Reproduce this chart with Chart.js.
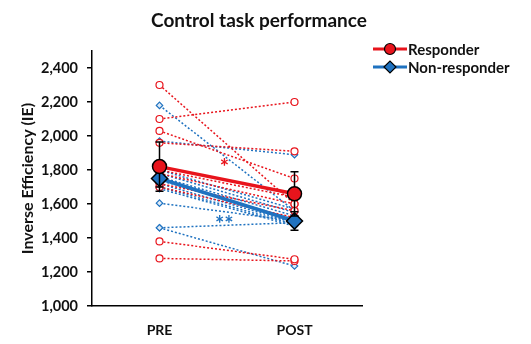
<!DOCTYPE html>
<html>
<head>
<meta charset="utf-8">
<script src="https://cdn.jsdelivr.net/npm/chart.js@4.4.1/dist/chart.umd.min.js"></script>
<style>
  body { margin: 0; background: #fff; }
  #wrap { width: 531px; height: 344px; }
</style>
</head>
<body>
<div id="wrap"><canvas id="chart"></canvas></div>
<script>
const timepoints = ['PRE', 'POST'];

// individual subjects, responders
const respPre  = [2300, 2100, 2030, 1960, 1800, 1780, 1720, 1700, 1380, 1280];
const respPost = [1600, 2200, 1750, 1910, 1640, 1600, 1560, 1520, 1275, 1265];
// individual subjects, non-responders
const nonPre  = [2180, 1970, 1800, 1780, 1760, 1740, 1720, 1700, 1690, 1605, 1460, 1460];
const nonPost = [1560, 1890, 1570, 1550, 1530, 1510, 1490, 1480, 1470, 1500, 1490, 1235];

// group means and error
const respMean = [1820, 1660];
const respErr  = [145, 130];
const nonMean  = [1750, 1500];
const nonErr   = [50, 55];

const RED = '#e8141c';
const BLUE = '#1f72c0';
const FONT = 'Lato, "Open Sans", sans-serif';

const datasets = [];

datasets.push({
    label: 'Responder',
    data: respMean,
    borderColor: RED,
    borderWidth: 3.5,
    pointStyle: 'circle',
    pointRadius: 7,
    pointBackgroundColor: RED,
    pointBorderColor: '#000',
    pointBorderWidth: 1.5,
    order: 0
});
datasets.push({
    label: 'Non-responder',
    data: nonMean,
    borderColor: BLUE,
    borderWidth: 3.5,
    pointStyle: 'rectRot',
    pointRadius: 8,
    pointBackgroundColor: BLUE,
    pointBorderColor: '#000',
    pointBorderWidth: 1.5,
    order: 0
});

respPre.forEach((v, i) => {
    datasets.push({
        data: [v, respPost[i]],
        borderColor: RED,
        borderWidth: 1.5,
        borderDash: [2, 2],
        pointStyle: 'circle',
        pointRadius: 3.5,
        pointBackgroundColor: '#fff',
        pointBorderColor: RED,
        pointBorderWidth: 1.2,
        order: 1
    });
});
nonPre.forEach((v, i) => {
    datasets.push({
        data: [v, nonPost[i]],
        borderColor: BLUE,
        borderWidth: 1.5,
        borderDash: [2, 2],
        pointStyle: 'rectRot',
        pointRadius: 3.2,
        pointBackgroundColor: '#deebf7',
        pointBorderColor: BLUE,
        pointBorderWidth: 1.2,
        order: 2
    });
});

// error bars drawn just before the mean datasets
const errorBars = {
    id: 'errorBars',
    beforeDatasetDraw(chart, args) {
        let means, errs;
        if (args.index === 0) { means = respMean; errs = respErr; }
        else if (args.index === 1) { means = nonMean; errs = nonErr; }
        else return;
        const ctx = chart.ctx, x = chart.scales.x, y = chart.scales.y;
        ctx.save();
        ctx.strokeStyle = '#000';
        ctx.lineWidth = 1.5;
        means.forEach((m, i) => {
            const px = x.getPixelForValue(i);
            const top = y.getPixelForValue(m + errs[i]);
            const bot = y.getPixelForValue(m - errs[i]);
            ctx.beginPath();
            ctx.moveTo(px, top); ctx.lineTo(px, bot);
            ctx.moveTo(px - 4, top); ctx.lineTo(px + 4, top);
            ctx.moveTo(px - 4, bot); ctx.lineTo(px + 4, bot);
            ctx.stroke();
        });
        ctx.restore();
    }
};

// title, significance stars and custom legend
const annotations = {
    id: 'annotations',
    afterDraw(chart) {
        const ctx = chart.ctx, x = chart.scales.x, y = chart.scales.y;
        ctx.save();
        ctx.textBaseline = 'middle';
        ctx.textAlign = 'center';
        ctx.fillStyle = '#111';
        ctx.font = 'bold 19px ' + FONT;
        ctx.fillText('Control task performance', 259, 21);

        ctx.font = 'bold 22px ' + FONT;
        ctx.fillStyle = RED;
        ctx.fillText('*', x.getPixelForValue(0.48), y.getPixelForValue(1810));
        ctx.fillStyle = BLUE;
        ctx.fillText('**', x.getPixelForValue(0.48), y.getPixelForValue(1475));

        const items = [
            { text: 'Responder', color: RED, style: 'circle', r: 5.5 },
            { text: 'Non-responder', color: BLUE, style: 'rectRot', r: 6 }
        ];
        ctx.font = 'bold 15px ' + FONT;
        ctx.textAlign = 'left';
        items.forEach((it, i) => {
            const cy = 49 + i * 18;
            ctx.strokeStyle = it.color;
            ctx.lineWidth = 3;
            ctx.beginPath();
            ctx.moveTo(373, cy); ctx.lineTo(407, cy);
            ctx.stroke();
            ctx.fillStyle = it.color;
            ctx.strokeStyle = '#000';
            ctx.lineWidth = 1.2;
            Chart.helpers.drawPoint(ctx, { pointStyle: it.style, radius: it.r, borderWidth: 1.2 }, 390, cy);
            ctx.fillStyle = '#111';
            ctx.fillText(it.text, 408, cy + 1);
        });
        ctx.restore();
    }
};

new Chart(document.getElementById('chart'), {
    type: 'line',
    data: { labels: timepoints, datasets: datasets },
    plugins: [errorBars, annotations],
    options: {
        responsive: true,
        maintainAspectRatio: false,
        animation: false,
        layout: { padding: { left: 0, right: 169, top: 51, bottom: 0 } },
        plugins: {
            legend: { display: false },
            tooltip: { enabled: false },
            title: { display: false }
        },
        scales: {
            x: {
                offset: true,
                grid: { display: false },
                border: { color: '#000', width: 1.5 },
                ticks: { color: '#111', padding: 8, font: { family: FONT, size: 14, weight: 'bold' } },
                afterFit: s => { s.height = 38; }
            },
            y: {
                min: 1000,
                max: 2500,
                grid: { drawOnChartArea: false, drawTicks: true, tickLength: 5, color: '#000', lineWidth: 1.5 },
                border: { color: '#000', width: 1.5 },
                ticks: {
                    stepSize: 200,
                    color: '#111',
                    padding: 9,
                    font: { family: FONT, size: 14.5, weight: 'bold' },
                    callback: v => v.toLocaleString('en-US')
                },
                afterBuildTicks: s => { s.ticks = s.ticks.filter(t => t.value % 200 === 0); },
                title: {
                    display: true,
                    text: 'Inverse Efficiency (IE)',
                    color: '#111',
                    font: { family: FONT, size: 16, weight: 'bold' },
                    padding: { top: 18, bottom: 0 }
                },
                afterFit: s => { s.width = 92; }
            }
        }
    }
});
</script>
</body>
</html>
